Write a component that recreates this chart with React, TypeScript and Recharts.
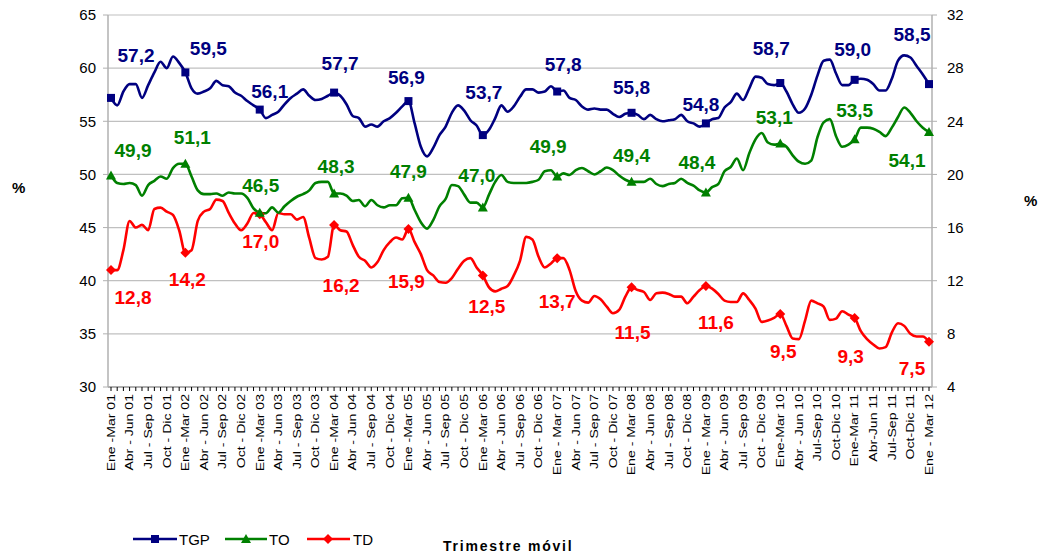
import React from 'react';
import { LineChart, Line, XAxis, YAxis, CartesianGrid } from 'recharts';

// ---------- DATA ----------
const tickLabels = [
  'Ene -Mar 01', 'Abr - Jun 01', 'Jul - Sep 01', 'Oct - Dic 01',
  'Ene -Mar 02', 'Abr - Jun 02', 'Jul - Sep 02', 'Oct - Dic 02',
  'Ene -Mar 03', 'Abr - Jun 03', 'Jul - Sep 03', 'Oct - Dic 03',
  'Ene -Mar 04', 'Abr - Jun 04', 'Jul - Sep 04', 'Oct - Dic 04',
  'Ene -Mar 05', 'Abr - Jun 05', 'Jul - Sep 05', 'Oct - Dic 05',
  'Ene -Mar 06', 'Abr - Jun 06', 'Jul - Sep 06', 'Oct - Dic 06',
  'Ene - Mar 07', 'Abr - Jun 07', 'Jul - Sep 07', 'Oct - Dic 07',
  'Ene - Mar 08', 'Abr - Jun 08', 'Jul - Sep 08', 'Oct - Dic 08',
  'Ene - Mar 09', 'Abr - Jun 09', 'Jul - Sep 09', 'Oct - Dic 09',
  'Ene-Mar 10', 'Abr - Jun 10', 'Jul-Sep 10', 'Oct-Dic 10',
  'Ene-Mar 11', 'Abr-Jun 11', 'Jul-Sep 11', 'Oct-Dic 11',
  'Ene - Mar 12',
];

const tgp = [
  57.2, 56.5, 57.8, 58.5, 58.5, 57.2, 58.4, 59.6, 60.6, 60.0, 61.1, 60.5,
  59.6, 58.1, 57.6, 57.8, 58.1, 58.8, 58.4, 58.3, 57.7, 57.4, 56.9, 56.5,
  56.1, 55.3, 55.6, 55.9, 56.6, 57.2, 57.6, 58.0, 57.4, 57.0, 57.1, 57.4,
  57.7, 57.4, 56.6, 55.5, 55.3, 54.5, 54.7, 54.5, 55.0, 55.3, 55.8, 56.4,
  56.9, 54.8, 52.6, 51.7, 52.5, 53.7, 54.5, 55.8, 56.5, 56.0, 55.1, 54.6,
  53.7, 54.2, 55.3, 56.5, 55.9, 56.4, 57.3, 58.0, 58.0, 57.7, 57.8, 58.3,
  57.8, 57.9, 57.2, 57.0, 56.4, 56.1, 56.2, 56.1, 56.1, 55.7, 55.4, 55.7,
  55.8, 55.6, 55.2, 55.6, 55.2, 55.0, 55.1, 55.2, 55.6, 55.0, 54.8, 54.5,
  54.8, 55.2, 55.3, 56.3, 56.8, 57.6, 57.0, 58.1, 59.2, 59.1, 58.5, 58.4,
  58.6, 57.8, 56.6, 55.8, 56.2, 57.5, 59.3, 60.7, 60.8, 59.5, 58.4, 58.4,
  58.9, 59.0, 58.9, 58.5, 57.9, 57.9, 59.0, 60.7, 61.2, 61.0, 60.2, 59.4, 58.5,
];

const to = [
  49.9, 49.2, 49.1, 49.2, 49.0, 48.0, 49.0, 49.4, 49.8, 49.6, 50.6, 51.0,
  51.0, 49.8, 48.5, 48.15, 48.15, 48.2, 48.0, 48.3, 48.2, 48.2, 47.8, 46.8,
  46.4, 46.35, 46.9, 46.4, 47.0, 47.5, 47.9, 48.15, 48.5, 49.2, 49.3, 49.3,
  48.2, 48.2, 48.0, 47.5, 47.6, 47.0, 47.6, 47.1, 46.9, 47.1, 47.1, 47.75,
  47.8, 46.65, 45.5, 44.9, 45.7, 47.0, 47.7, 49.0, 48.9, 48.1, 47.35, 47.35,
  46.9, 48.1, 49.3, 49.95, 49.3, 49.2, 49.2, 49.2, 49.3, 49.5, 50.3, 50.4,
  49.8, 50.1, 49.95, 50.4, 50.6, 50.3, 50.0, 50.3, 50.65, 50.4, 49.9, 49.5,
  49.3, 49.3, 49.3, 49.6, 49.1, 48.9, 49.1, 49.2, 49.6, 49.2, 48.95, 48.5,
  48.3, 48.8, 49.1, 50.3, 50.7, 51.5, 50.4, 52.0, 53.3, 53.9, 53.0, 52.8,
  52.9, 52.6, 51.8, 51.2, 51.0, 51.3, 53.5, 54.9, 55.2, 53.6, 52.6, 52.8,
  53.3, 54.4, 54.4, 54.3, 54.0, 53.6, 54.4, 55.4, 56.3, 55.8, 55.0, 54.4, 54.0,
];

const td = [
  12.8, 12.8, 14.3, 16.5, 16.0, 16.2, 15.8, 17.4, 17.5, 17.2, 16.95, 15.8,
  14.1, 14.3, 16.5, 17.2, 17.4, 18.1, 18.0, 17.1, 16.3, 15.8, 16.3, 17.1,
  17.0, 16.4, 15.8, 17.1, 17.0, 17.0, 16.6, 16.8, 15.2, 13.7, 13.6, 13.8,
  16.2, 15.8, 15.7, 14.7, 13.8, 13.5, 13.0, 13.4, 14.3, 14.9, 15.25, 15.1,
  15.9, 14.9, 14.0, 12.8, 12.4, 11.9, 11.85, 12.2, 12.9, 13.5, 13.7, 13.0,
  12.4, 11.5, 11.2, 11.4, 11.6, 12.4, 13.5, 15.3, 15.1, 13.8, 13.0, 13.3,
  13.7, 13.7, 12.8, 11.2, 10.5, 10.35, 10.85, 10.6, 10.05, 9.55, 9.8, 10.8,
  11.5, 11.3, 11.15, 10.55, 11.05, 11.1, 11.0, 10.8, 10.8, 10.3, 10.8, 11.3,
  11.6, 11.4, 11.0, 10.5, 10.4, 10.4, 11.05, 10.55, 9.9, 8.9, 9.0, 9.2,
  9.5, 8.6, 7.65, 7.6, 9.0, 10.5, 10.3, 10.05, 9.05, 9.15, 9.7, 9.45,
  9.2, 8.2, 7.6, 7.2, 6.9, 7.0, 8.1, 8.8, 8.6, 8.0, 7.8, 7.8, 7.4,
];

const tgpLabels = ['57,2', '59,5', '56,1', '57,7', '56,9', '53,7', '57,8', '55,8', '54,8', '58,7', '59,0', '58,5'];
const toLabels = ['49,9', '51,1', '46,5', '48,3', '47,9', '47,0', '49,9', '49,4', '48,4', '53,1', '53,5', '54,1'];
const tdLabels = ['12,8', '14,2', '17,0', '16,2', '15,9', '12,5', '13,7', '11,5', '11,6', '9,5', '9,3', '7,5'];

const data = tgp.map((v, i) => ({ i, tgp: v, to: to[i], td: td[i] }));

// ---------- LAYOUT / STYLE ----------
const FONT = '"Liberation Sans", Arial, Helvetica, sans-serif';
const C_TGP = '#000080';
const C_TO = '#008000';
const C_TD = '#ff0000';

// label offsets (dx, dy) relative to the marker
const tgpOffsets = [[25, -43], [23, -24], [10, -18], [6, -29], [-2, -24], [1, -43], [6, -27], [0, -25], [-5, -19], [-9, -35], [-2, -30], [-17, -50]];
const toOffsets = [[22, -25], [7, -26], [1, -27], [2, -27], [0, -26], [-6, -32], [-9, -30], [0, -27], [-9, -30], [-6, -26], [0, -29], [-22, 28]];
const tdOffsets = [[22, 27], [2, 27], [1, 27], [7, 60], [-2, 52], [4, 31], [0, 43], [1, 45], [10, 36], [3, 37], [-4, 38], [-17, 27]];

type Shape = 'square' | 'triangle' | 'diamond';

const markerShape = (shape: Shape, cx: number, cy: number, color: string) => {
  if (shape === 'square') return <rect x={cx - 4} y={cy - 4} width={8} height={8} fill={color} />;
  if (shape === 'triangle')
    return <polygon points={`${cx},${cy - 5} ${cx + 5},${cy + 4} ${cx - 5},${cy + 4}`} fill={color} />;
  return <polygon points={`${cx},${cy - 5} ${cx + 5},${cy} ${cx},${cy + 5} ${cx - 5},${cy}`} fill={color} />;
};

const makeDot = (shape: Shape, color: string, labels: string[], offsets: number[][]) => (props: any) => {
  const { cx, cy, index } = props;
  const key = `${shape}-${index}`;
  if (index % 12 !== 0 || cx == null || cy == null) return <g key={key} />;
  const k = index / 12;
  const [dx, dy] = offsets[k];
  return (
    <g key={key}>
      {markerShape(shape, cx, cy, color)}
      <text
        x={cx + dx}
        y={cy + dy}
        dy="0.35em"
        textAnchor="middle"
        fontSize={19}
        fontWeight="bold"
        fontFamily={FONT}
        fill={color}
      >
        {labels[k]}
      </text>
    </g>
  );
};

const XTick = (props: any) => {
  const { x, y, payload } = props;
  const idx = Number(payload?.value);
  if (idx % 3 !== 0) return <g />;
  const label = tickLabels[idx / 3];
  return (
    <g transform={`translate(${x},${y})`}>
      <text
        transform="rotate(-90) scale(1.34,1)"
        textAnchor="end"
        dy="0.36em"
        fontSize={10.5}
        fontFamily={FONT}
        fill="#000"
      >
        {label}
      </text>
    </g>
  );
};

export default function App() {
  return (
    <div style={{ position: 'absolute', left: 0, top: 0, width: 1041, height: 558, background: '#fff' }}>
      <LineChart width={1041} height={558} data={data} margin={{ top: 15, right: 0, bottom: 0, left: 0 }}>
        <CartesianGrid yAxisId="left" vertical={false} stroke="#c0c0c0" strokeWidth={1.2} />
        <XAxis
          dataKey="i"
          type="category"
          interval={0}
          height={171}
          padding={{ left: 3, right: 3 }}
          tick={<XTick />}
          tickSize={4}
          tickMargin={3}
          axisLine={{ stroke: '#808080', strokeWidth: 1.2 }}
          tickLine={{ stroke: '#000' }}
        />
        <YAxis
          yAxisId="left"
          orientation="left"
          width={108}
          domain={[30, 65]}
          ticks={[30, 35, 40, 45, 50, 55, 60, 65]}
          interval={0}
          tickSize={5}
          tickMargin={7}
          tick={{ fontSize: 15, fill: '#000', fontFamily: FONT }}
          axisLine={{ stroke: '#b0b0b0', strokeWidth: 1.5 }}
          tickLine={{ stroke: '#b0b0b0' }}
          allowDataOverflow
        />
        <YAxis
          yAxisId="right"
          orientation="right"
          width={109}
          domain={[4, 32]}
          ticks={[4, 8, 12, 16, 20, 24, 28, 32]}
          interval={0}
          tickSize={5}
          tickMargin={10}
          tick={{ fontSize: 15, fill: '#000', fontFamily: FONT }}
          axisLine={{ stroke: '#b0b0b0', strokeWidth: 1.5 }}
          tickLine={{ stroke: '#b0b0b0' }}
          allowDataOverflow
        />
        <Line
          yAxisId="right"
          dataKey="td"
          type="monotone"
          stroke={C_TD}
          strokeWidth={2.6}
          dot={makeDot('diamond', C_TD, tdLabels, tdOffsets)}
          activeDot={false}
          isAnimationActive={false}
        />
        <Line
          yAxisId="left"
          dataKey="to"
          type="monotone"
          stroke={C_TO}
          strokeWidth={2.6}
          dot={makeDot('triangle', C_TO, toLabels, toOffsets)}
          activeDot={false}
          isAnimationActive={false}
        />
        <Line
          yAxisId="left"
          dataKey="tgp"
          type="monotone"
          stroke={C_TGP}
          strokeWidth={2.6}
          dot={makeDot('square', C_TGP, tgpLabels, tgpOffsets)}
          activeDot={false}
          isAnimationActive={false}
        />
      </LineChart>
      <svg
        width={1041}
        height={558}
        style={{ position: 'absolute', left: 0, top: 0, pointerEvents: 'none' }}
      >
        <text x={12} y={193} fontSize={15} fontWeight="bold" fontFamily={FONT} fill="#000">%</text>
        <text x={1024} y={206} fontSize={15} fontWeight="bold" fontFamily={FONT} fill="#000">%</text>

        <line x1={133} x2={177} y1={539} y2={539} stroke={C_TGP} strokeWidth={2.6} />
        <rect x={151} y={535} width={8} height={8} fill={C_TGP} />
        <text x={179} y={545} fontSize={15} fontFamily={FONT} fill="#000">TGP</text>

        <line x1={225} x2={267} y1={539} y2={539} stroke={C_TO} strokeWidth={2.6} />
        <polygon points="246,534 251,543 241,543" fill={C_TO} />
        <text x={269} y={545} fontSize={15} fontFamily={FONT} fill="#000">TO</text>

        <line x1={307} x2={350} y1={539} y2={539} stroke={C_TD} strokeWidth={2.6} />
        <polygon points="328,534 333,539 328,544 323,539" fill={C_TD} />
        <text x={353} y={545} fontSize={15} fontFamily={FONT} fill="#000">TD</text>

        <text x={443} y={551} fontSize={14} fontWeight="bold" letterSpacing={1.8} fontFamily={FONT} fill="#000">
          Trimestre móvil
        </text>
      </svg>
    </div>
  );
}
